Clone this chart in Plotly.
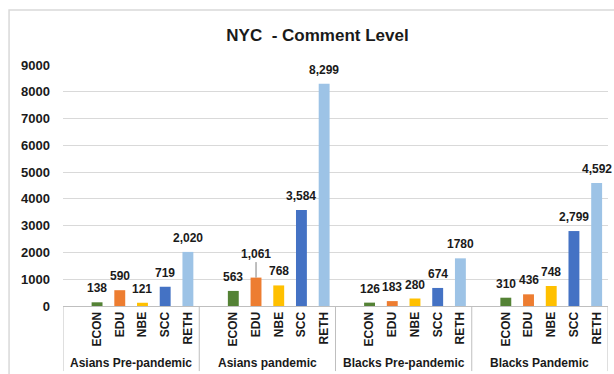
import plotly.graph_objects as go

groups = ["Asians Pre-pandemic", "Asians pandemic", "Blacks Pre-pandemic", "Blacks Pandemic"]
cats = ["ECON", "EDU", "NBE", "SCC", "RETH"]
colors = ["#548235", "#ED7D31", "#FFC000", "#4472C4", "#9DC3E6"]
values = [
    [138, 590, 121, 719, 2020],
    [563, 1061, 768, 3584, 8299],
    [126, 183, 280, 674, 1780],
    [310, 436, 748, 2799, 4592],
]
labels = [
    ["138", "590", "121", "719", "2,020"],
    ["563", "1,061", "768", "3,584", "8,299"],
    ["126", "183", "280", "674", "1780"],
    ["310", "436", "748", "2,799", "4,592"],
]
y_ticks = list(range(0, 10000, 1000))

FONT = "Liberation Sans, Arial, sans-serif"
SLOTS = 6  # one blank slot before each group's bars

fig = go.Figure()
tickvals, ticktext = [], []
annotations = []
for ci, cat in enumerate(cats):
    xs = [g * SLOTS + ci + 1 for g in range(len(groups))]
    ys = [values[g][ci] for g in range(len(groups))]
    fig.add_trace(go.Bar(x=xs, y=ys, name=cat, marker=dict(color=colors[ci], line=dict(width=0)),
                         width=0.48, showlegend=False, hoverinfo="x+y"))
    for g in range(len(groups)):
        tickvals.append(xs[g])
        ticktext.append(cat)
        lab = labels[g][ci]
        if lab == "1,061":
            annotations.append(dict(x=xs[g], y=ys[g], text=f"<b>{lab}</b>", showarrow=True,
                                    arrowhead=0, arrowwidth=1, arrowcolor="#7f7f7f", ax=0, ay=-24,
                                    standoff=0, font=dict(size=12, color="#1a1a1a", family=FONT)))
        else:
            annotations.append(dict(x=xs[g], y=ys[g], text=f"<b>{lab}</b>", showarrow=False,
                                    yanchor="middle", yshift=14,
                                    font=dict(size=12, color="#1a1a1a", family=FONT)))

for g, gname in enumerate(groups):
    annotations.append(dict(x=g * SLOTS + 2.5, y=-0.2365, yref="paper", text=f"<b>{gname}</b>",
                            showarrow=False, yanchor="middle",
                            font=dict(size=12, color="#1a1a1a", family=FONT)))

shapes = []
for g in range(len(groups) + 1):
    shapes.append(dict(type="line", xref="x", yref="paper", x0=g * SLOTS - 0.5, x1=g * SLOTS - 0.5,
                       y0=0, y1=-0.27, line=dict(color="#bfbfbf", width=1)))
shapes.append(dict(type="rect", xref="paper", yref="paper", x0=-0.099, x1=1.02, y0=-0.3, y1=1.228,
                   line=dict(color="#d9d9d9", width=1.5), layer="below"))

fig.update_layout(
    width=614, height=374,
    margin=dict(l=63, r=6, t=65, b=68),
    paper_bgcolor="white", plot_bgcolor="white",
    barmode="overlay",
    title=dict(text="<b>NYC\u00a0 - Comment Level</b>", x=0.467, xref="paper", xanchor="center",
               y=1 - 35 / 374, yref="container", yanchor="middle",
               font=dict(size=17, color="#1a1a1a", family=FONT)),
    xaxis=dict(range=[-0.5, len(groups) * SLOTS - 0.5], tickvals=tickvals, ticktext=[f"<b>{t}</b>" for t in ticktext],
               tickangle=-90, showgrid=False, zeroline=False, showline=True, linecolor="#bfbfbf", linewidth=1,
               ticks="", tickfont=dict(size=12, color="#1a1a1a", family=FONT), fixedrange=True),
    yaxis=dict(range=[0, 9000], tickvals=y_ticks, ticktext=[f"<b>{v}</b>" for v in y_ticks],
               showgrid=True, gridcolor="#d9d9d9", gridwidth=1, zeroline=False, showline=False,
               ticks="", ticklabelstandoff=12, tickfont=dict(size=13, color="#1a1a1a", family=FONT), fixedrange=True),
    annotations=annotations,
    shapes=shapes,
)

fig.write_html("out.html")
